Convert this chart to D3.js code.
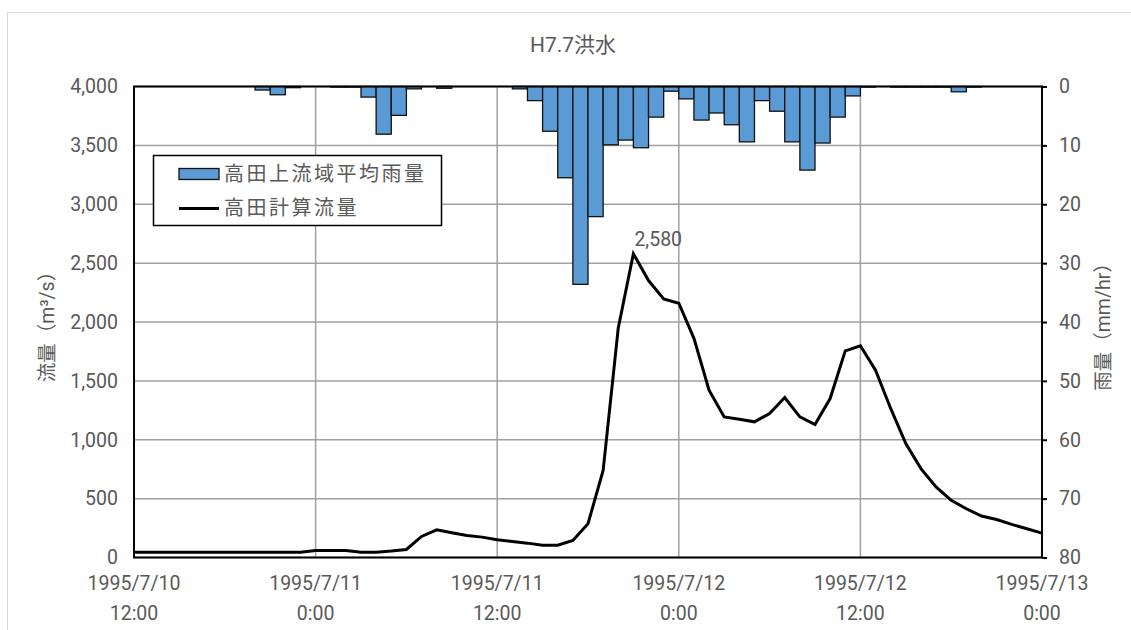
<!DOCTYPE html>
<html><head><meta charset="utf-8">
<script src="https://cdn.jsdelivr.net/npm/d3@7"></script>
<style>
html,body{margin:0;padding:0;background:#fff;}
text{font-family:"Roboto","Noto Sans CJK JP",sans-serif;fill:#595959;}
</style></head>
<body><svg id="c" width="1131" height="630"></svg>
<script>
const title = "H7.7洪水";
const startTime = new Date(1995, 6, 10, 12, 0);
const endTime = new Date(1995, 6, 13, 0, 0);
// hourly computed flow (m3/s), from 1995/7/10 12:00 to 1995/7/13 0:00
const flowValues = [45,45,45,45,45,45,45,45,45,45,45,45,
  60,60,60,45,45,55,68,179,235,210,187,173,150,136,122,105,105,145,287,740,
  1950,2580,2352,2196,2159,1861,1421,1194,1174,1152,1223,1359,1194,1129,1350,1755,
  1798,1591,1266,968,755,599,485,414,352,323,281,244,207];
// hourly basin-average rainfall (mm/hr), one value per hour interval
const rainValues = [0,0,0,0,0,0,0,0,0.6,1.4,0.2,0,0,0.1,0.1,1.8,8.1,4.9,0.4,0,0.3,0,0,0,0,
  0.4,2.4,7.6,15.5,33.6,22.1,9.9,9.1,10.4,5.2,0.8,2.1,5.7,4.5,6.5,9.4,2.4,4.2,9.4,14.2,9.6,5.2,1.6,
  0.1,0,0.1,0.1,0.1,0.1,0.9,0.1,0,0,0,0];
const flowTicks = [0,500,1000,1500,2000,2500,3000,3500,4000];
const rainTicks = [0,10,20,30,40,50,60,70,80];
const xTickDates = [new Date(1995,6,10,12), new Date(1995,6,11,0), new Date(1995,6,11,12),
  new Date(1995,6,12,0), new Date(1995,6,12,12), new Date(1995,6,13,0)];
const xTickLabels = [["1995/7/10","12:00"],["1995/7/11","0:00"],["1995/7/11","12:00"],
  ["1995/7/12","0:00"],["1995/7/12","12:00"],["1995/7/13","0:00"]];
const legendLabels = ["高田上流域平均雨量","高田計算流量"];
const peakLabel = "2,580";
const leftTitle = "流量（m³/s）";
const rightTitle = "雨量（mm/hr）";

const hour = 3600*1000;
const flowData = flowValues.map((v,i)=>({t:new Date(+startTime + i*hour), v}));
const rainData = rainValues.map((v,i)=>({t0:new Date(+startTime + i*hour), t1:new Date(+startTime+(i+1)*hour), v}));

const svg = d3.select("#c");
const L=134, R=1042, T=86.5, B=557.5;
const x = d3.scaleTime().domain([startTime,endTime]).range([L,R]);
const yF = d3.scaleLinear().domain([0,4000]).range([B,T]);
const yR = d3.scaleLinear().domain([0,80]).range([T,B]);
const fs = "19.5px";

// chart outer border
svg.append("rect").attr("x",7.5).attr("y",12.5).attr("width",1140).attr("height",640)
  .attr("fill","none").attr("stroke","#d9d9d9").attr("stroke-width",1);

// title
svg.append("text").attr("x",573).attr("y",52).attr("text-anchor","middle")
  .style("font-size","21px").text(title);

// gridlines
svg.append("g").selectAll("line").data(flowTicks).join("line")
  .attr("x1",L).attr("x2",R).attr("y1",d=>yF(d)).attr("y2",d=>yF(d))
  .attr("stroke","#a0a0a0").attr("stroke-width",1.5);
svg.append("g").selectAll("line").data(xTickDates).join("line")
  .attr("x1",d=>x(d)).attr("x2",d=>x(d)).attr("y1",T).attr("y2",B)
  .attr("stroke","#a0a0a0").attr("stroke-width",1.5);

// rain bars
svg.append("g").selectAll("rect").data(rainData.filter(d=>d.v>0)).join("rect")
  .attr("x",d=>x(d.t0)).attr("width",d=>x(d.t1)-x(d.t0))
  .attr("y",yR(0)).attr("height",d=>yR(d.v)-yR(0))
  .attr("fill","#5b9bd5").attr("stroke","#111").attr("stroke-width",1.3);

// flow line
svg.append("path").datum(flowData)
  .attr("d",d3.line().x(d=>x(d.t)).y(d=>yF(d.v)))
  .attr("fill","none").attr("stroke","#000").attr("stroke-width",3).attr("stroke-linejoin","miter");

// plot frame
svg.append("rect").attr("x",L).attr("y",T).attr("width",R-L).attr("height",B-T)
  .attr("fill","none").attr("stroke","#000").attr("stroke-width",2);

// left axis
const gl = svg.append("g").attr("transform",`translate(${L},0)`)
  .call(d3.axisLeft(yF).tickValues(flowTicks).tickSize(0).tickPadding(16).tickFormat(d3.format(",")));
gl.select(".domain").remove();
gl.selectAll("text").style("font-size",fs).attr("fill","#595959");

// right axis
const gr = svg.append("g").attr("transform",`translate(${R},0)`)
  .call(d3.axisRight(yR).tickValues(rainTicks).tickSize(5).tickPadding(12));
gr.select(".domain").remove();
gr.selectAll("line").attr("stroke","#000").attr("stroke-width",2);
gr.selectAll("text").style("font-size",fs).attr("fill","#595959");

// x axis labels (two lines)
const gx = svg.append("g");
xTickDates.forEach((d,i)=>{
  const t = gx.append("text").attr("text-anchor","middle").style("font-size",fs);
  t.append("tspan").attr("x",x(d)).attr("y",590).text(xTickLabels[i][0]);
  t.append("tspan").attr("x",x(d)).attr("y",620).text(xTickLabels[i][1]);
});

// axis titles
svg.append("text").attr("transform",`translate(54,${(T+B)/2}) rotate(-90)`)
  .attr("text-anchor","middle").style("font-size",fs).text(leftTitle);
svg.append("text").attr("transform",`translate(1110,${(T+B)/2}) rotate(-90)`)
  .attr("text-anchor","middle").style("font-size",fs).text(rightTitle);

// peak label
const peak = flowData.reduce((a,b)=>b.v>a.v?b:a);
svg.append("text").attr("x",x(peak.t)+1).attr("y",yF(peak.v)-8)
  .style("font-size",fs).text(peakLabel);

// legend
const lg = svg.append("g");
lg.append("rect").attr("x",153.5).attr("y",155.5).attr("width",288).attr("height",70)
  .attr("fill","#fff").attr("stroke","#000").attr("stroke-width",1.5);
lg.append("rect").attr("x",179).attr("y",168.5).attr("width",40).attr("height",11)
  .attr("fill","#5b9bd5").attr("stroke","#111").attr("stroke-width",1.3);
lg.append("line").attr("x1",179).attr("x2",219).attr("y1",208.5).attr("y2",208.5)
  .attr("stroke","#000").attr("stroke-width",3);
lg.selectAll("text.lt").data(legendLabels).join("text").attr("class","lt")
  .attr("x",224).attr("y",(d,i)=>181+i*34).style("font-size","20px")
  .style("letter-spacing","2.5px").text(d=>d);
</script></body></html>
